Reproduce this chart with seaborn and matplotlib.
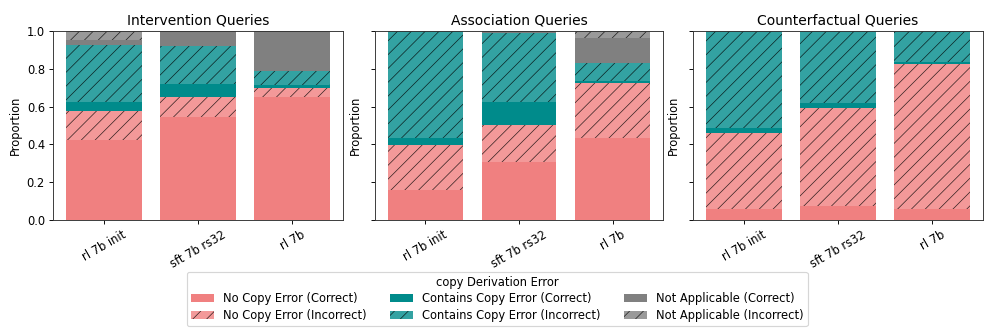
import matplotlib
matplotlib.use("Agg")
import matplotlib.pyplot as plt
from matplotlib.patches import Patch
import seaborn as sns
import numpy as np

# ----------------------
# DATA (proportions)
# ----------------------
panels = ["Intervention Queries", "Association Queries", "Counterfactual Queries"]
models = ["rl 7b init", "sft 7b rs32", "rl 7b"]

# one row per panel, one value per model
no_copy_correct = [[0.423, 0.547, 0.649], [0.159, 0.309, 0.436], [0.058, 0.072, 0.058]]
no_copy_incorrect = [[0.154, 0.106, 0.051], [0.238, 0.194, 0.287], [0.404, 0.522, 0.767]]
contains_correct = [[0.049, 0.067, 0.014], [0.039, 0.120, 0.012], [0.025, 0.023, 0.013]]
contains_incorrect = [[0.300, 0.202, 0.076], [0.564, 0.365, 0.094], [0.513, 0.383, 0.162]]
na_correct = [[0.026, 0.078, 0.210], [0.000, 0.012, 0.132], [0.000, 0.000, 0.000]]
na_incorrect = [[0.048, 0.000, 0.000], [0.000, 0.000, 0.039], [0.000, 0.000, 0.000]]

segment_labels = [
    "No Copy Error (Correct)", "No Copy Error (Incorrect)",
    "Contains Copy Error (Correct)", "Contains Copy Error (Incorrect)",
    "Not Applicable (Correct)", "Not Applicable (Incorrect)",
]
segment_data = [no_copy_correct, no_copy_incorrect, contains_correct,
                contains_incorrect, na_correct, na_incorrect]
segment_colors = ["lightcoral", "lightcoral", "darkcyan", "darkcyan", "gray", "gray"]
segment_hatch = [None, "//", None, "//", None, "//"]
segment_alpha = [1.0, 0.8, 1.0, 0.8, 1.0, 0.8]

# ----------------------
# PLOT
# ----------------------
sns.set_style("white")
plt.rcParams["font.family"] = ["DejaVu Sans"]
plt.rcParams["hatch.linewidth"] = 0.6
plt.rcParams["axes.edgecolor"] = "#333333"
for key in ["text.color", "axes.labelcolor", "xtick.color", "ytick.color"]:
    plt.rcParams[key] = "black"

DPI = 83
fig = plt.figure(figsize=(12, 4))
lefts = [53, 375, 693]
widths = [290, 288, 290]
axes = [fig.add_axes([l / 996, 1 - 220 / 332, w / 996, 189 / 332]) for l, w in zip(lefts, widths)]

for p, ax in enumerate(axes):
    bottom = np.zeros(len(models))
    for s in range(len(segment_labels)):
        vals = np.array(segment_data[s][p])
        sns.barplot(x=models, y=vals, bottom=bottom, ax=ax, color=segment_colors[s],
                    alpha=segment_alpha[s], hatch=segment_hatch[s], saturation=1,
                    edgecolor="black", linewidth=0, width=0.8, errorbar=None)
        bottom = bottom + vals
    ax.set_ylim(0, 1.0)
    ax.set_xlim(-0.54, 2.54)
    ax.set_title(panels[p])
    ax.set_ylabel("Proportion")
    ax.tick_params(axis="both", direction="out", length=3.5, width=0.8, bottom=True, left=True)
    ax.set_yticks([0, 0.2, 0.4, 0.6, 0.8, 1.0])
    if p == 0:
        ax.set_yticklabels(["0.0", "0.2", "0.4", "0.6", "0.8", "1.0"])
    else:
        ax.set_yticklabels([])
    for lbl in ax.get_xticklabels():
        lbl.set_rotation(30)
        lbl.set_ha("center")
    for sp in ax.spines.values():
        sp.set_visible(True)
        sp.set_linewidth(0.8)

handles = [Patch(facecolor=c, alpha=a, hatch=h, edgecolor="black", linewidth=0)
           for c, a, h in zip(segment_colors, segment_alpha, segment_hatch)]
fig.legend(handles, segment_labels, title="copy Derivation Error", ncol=3,
           loc="upper left", bbox_to_anchor=(187 / 996, 1 - 272 / 332),
           borderaxespad=0, borderpad=0.35, labelspacing=0.3, frameon=True)

fig.savefig("out.png", dpi=DPI)
